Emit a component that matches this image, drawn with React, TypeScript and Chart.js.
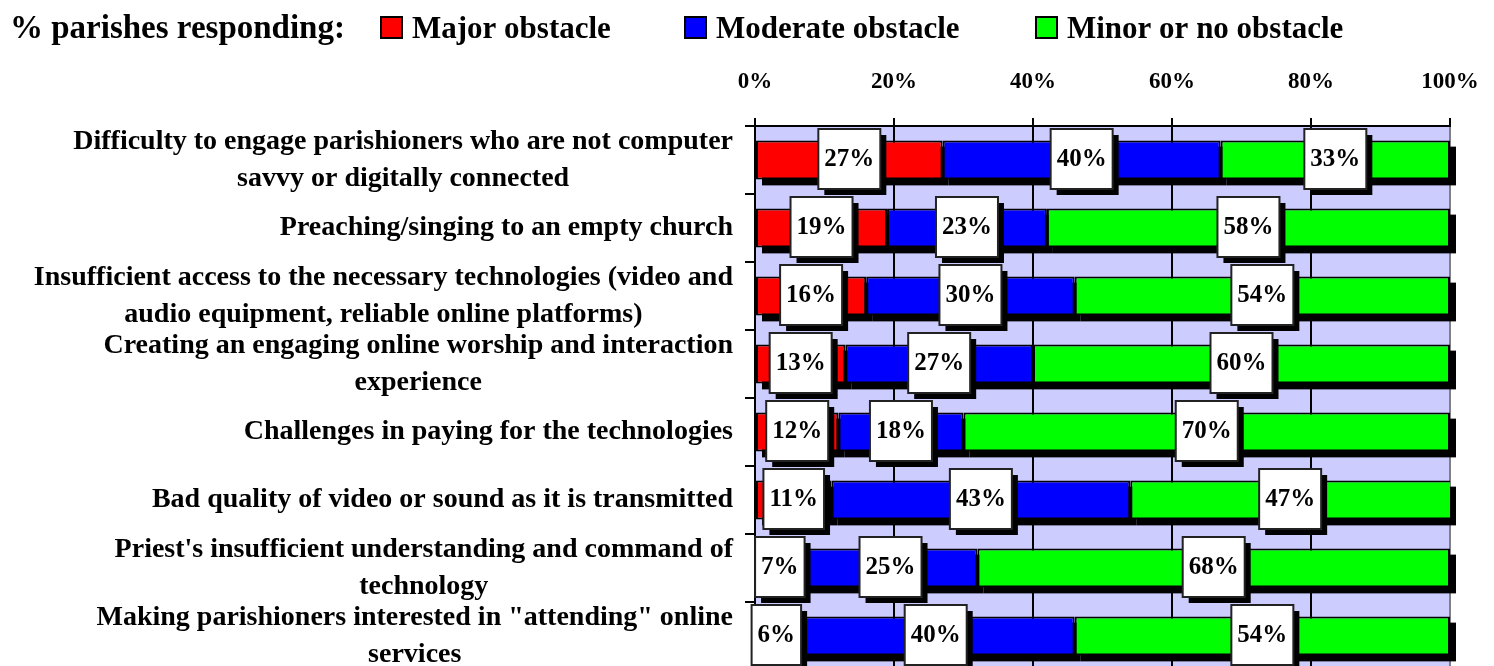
import React, { useEffect, useRef } from 'react';
import { Chart, registerables } from 'chart.js';

Chart.register(...registerables);

const categories: (string | string[])[] = [
  ['Difficulty to engage parishioners who are not computer', 'savvy or digitally connected'],
  'Preaching/singing to an empty church',
  ['Insufficient access to the necessary technologies (video and', 'audio equipment, reliable online platforms)'],
  ['Creating an engaging online worship and interaction', 'experience'],
  'Challenges in paying for the technologies',
  'Bad quality of video or sound as it is transmitted',
  ["Priest's insufficient understanding and command of", 'technology'],
  ['Making parishioners interested in "attending" online', 'services'],
];

const majorObstacle = [27, 19, 16, 13, 12, 11, 7, 6];
const moderateObstacle = [40, 23, 30, 27, 18, 43, 25, 40];
const minorObstacle = [33, 58, 54, 60, 70, 47, 68, 54];

const seriesNames = ['Major obstacle', 'Moderate obstacle', 'Minor or no obstacle'];
const seriesColors = ['#FF0000', '#0000FF', '#00FF00'];
const xTickValues = [0, 20, 40, 60, 80, 100];
const legendTitle = '% parishes responding:';

const FONT = '"Liberation Serif", "Times New Roman", serif';

const plotBackground = {
  id: 'plotBackground',
  beforeDraw(chart: any) {
    const { ctx, chartArea } = chart;
    ctx.save();
    ctx.fillStyle = '#CCCCFF';
    ctx.fillRect(chartArea.left, chartArea.top, chartArea.right - chartArea.left, chartArea.bottom - chartArea.top);
    ctx.restore();
  },
};

const barShadow = {
  id: 'barShadow',
  beforeDatasetsDraw(chart: any) {
    const { ctx, chartArea } = chart;
    ctx.save();
    ctx.fillStyle = '#000';
    chart.data.datasets.forEach((_ds: any, i: number) => {
      const meta = chart.getDatasetMeta(i);
      meta.data.forEach((el: any) => {
        const p = el.getProps(['x', 'y', 'base', 'height'], true);
        const left = Math.min(p.x, p.base);
        const right = Math.min(Math.max(p.x, p.base), chartArea.right);
        ctx.fillRect(left + 6, p.y - p.height / 2 + 6, right - left, p.height);
      });
    });
    ctx.restore();
  },
};

const valueBoxes = {
  id: 'valueBoxes',
  afterDatasetsDraw(chart: any) {
    const { ctx, chartArea } = chart;
    ctx.save();
    ctx.font = `bold 25px ${FONT}`;
    ctx.textAlign = 'center';
    ctx.textBaseline = 'middle';
    chart.data.datasets.forEach((ds: any, i: number) => {
      const meta = chart.getDatasetMeta(i);
      meta.data.forEach((el: any, j: number) => {
        const p = el.getProps(['x', 'y', 'base', 'height'], true);
        const left = Math.min(p.x, p.base);
        const right = Math.min(Math.max(p.x, p.base), chartArea.right);
        const cx = (left + right) / 2;
        const cy = p.y - 1;
        const text = ds.data[j] + '%';
        const w = ctx.measureText(text).width + 12;
        const h = 60;
        ctx.fillStyle = '#000';
        ctx.fillRect(cx - w / 2 + 6, cy - h / 2 + 6, w, h);
        ctx.fillStyle = '#FFF';
        ctx.fillRect(cx - w / 2, cy - h / 2, w, h);
        ctx.strokeStyle = '#222';
        ctx.lineWidth = 2;
        ctx.strokeRect(cx - w / 2, cy - h / 2, w, h);
        ctx.fillStyle = '#000';
        ctx.fillText(text, cx, cy + 1);
      });
    });
    ctx.restore();
  },
};

const categoryLabels = {
  id: 'categoryLabels',
  afterDraw(chart: any) {
    const { ctx } = chart;
    const yScale = chart.scales.y;
    ctx.save();
    ctx.font = `bold 28px ${FONT}`;
    ctx.textAlign = 'center';
    ctx.textBaseline = 'middle';
    ctx.fillStyle = '#000';
    const right = yScale.right - 10 - 12;
    (chart.data.labels as any[]).forEach((c: any, i: number) => {
      const lines: string[] = Array.isArray(c) ? c : [c];
      const w = Math.max(...lines.map((l) => ctx.measureText(l).width));
      const cx = right - w / 2;
      const cy = yScale.getPixelForValue(i);
      lines.forEach((l, k) => {
        ctx.fillText(l, cx, cy + (k - (lines.length - 1) / 2) * 37);
      });
    });
    ctx.restore();
  },
};

const headerLegend = {
  id: 'headerLegend',
  afterDraw(chart: any) {
    const { ctx } = chart;
    ctx.save();
    ctx.fillStyle = '#000';
    ctx.textBaseline = 'alphabetic';
    ctx.textAlign = 'left';
    ctx.font = `bold 33px ${FONT}`;
    ctx.fillText(legendTitle, 10, 38);
    const starts = [381, 685, 1036];
    ctx.font = `bold 31px ${FONT}`;
    chart.data.datasets.forEach((ds: any, i: number) => {
      const x = starts[i];
      ctx.fillStyle = ds.backgroundColor;
      ctx.fillRect(x, 17, 21, 21);
      ctx.strokeStyle = '#000';
      ctx.lineWidth = 2;
      ctx.strokeRect(x, 17, 21, 21);
      ctx.fillStyle = '#000';
      ctx.fillText(ds.label, x + 31, 38);
    });
    ctx.restore();
  },
};

export default function App() {
  const canvasRef = useRef<HTMLCanvasElement | null>(null);

  useEffect(() => {
    if (!canvasRef.current) return;
    const data = [majorObstacle, moderateObstacle, minorObstacle];
    const chart = new Chart(canvasRef.current, {
      type: 'bar',
      data: {
        labels: categories as any,
        datasets: data.map((d, i) => ({
          label: seriesNames[i],
          data: d,
          backgroundColor: seriesColors[i],
          borderColor: '#000',
          borderWidth: 2,
          borderSkipped: false,
          categoryPercentage: 1,
          barPercentage: 0.57,
        })),
      },
      options: {
        indexAxis: 'y',
        responsive: false,
        maintainAspectRatio: false,
        animation: false,
        layout: { padding: { top: 70, left: 8, right: 44, bottom: 2 } },
        plugins: {
          legend: { display: false },
          tooltip: { enabled: false },
        },
        scales: {
          x: {
            position: 'top',
            stacked: true,
            min: 0,
            max: 100,
            afterBuildTicks: (scale: any) => {
              scale.ticks = xTickValues.map((v) => ({ value: v }));
            },
            afterFit: (scale: any) => {
              scale.height = 56;
              scale.paddingLeft = 0;
              scale.paddingRight = 0;
            },
            ticks: {
              padding: 22,
              color: '#000',
              font: { family: FONT, size: 23, weight: 'bold' },
              callback: (v: any) => v + '%',
            },
            grid: {
              color: (c: any) => (c.tick && c.tick.value === 100 ? '#808080' : '#000'),
              lineWidth: 2,
              tickLength: 8,
              tickColor: '#000',
            },
            border: { color: '#000', width: 2 },
          },
          y: {
            stacked: true,
            afterFit: (scale: any) => {
              scale.width = 747;
            },
            ticks: { display: false },
            grid: {
              drawOnChartArea: false,
              tickLength: 10,
              tickColor: '#000',
              lineWidth: 2,
            },
            border: { color: '#000', width: 2 },
          },
        },
      } as any,
      plugins: [plotBackground, barShadow, valueBoxes, categoryLabels, headerLegend],
    });
    return () => chart.destroy();
  }, []);

  return (
    <div style={{ position: 'fixed', left: 0, top: 0, width: 1494, height: 672 }}>
      <canvas ref={canvasRef} width={1494} height={672} style={{ display: 'block' }} />
    </div>
  );
}
